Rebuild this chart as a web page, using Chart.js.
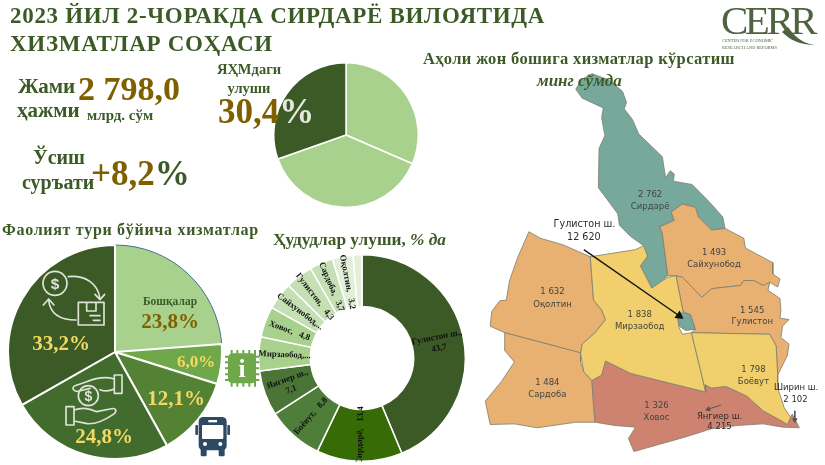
<!DOCTYPE html>
<html>
<head>
<meta charset="utf-8">
<title>Сирдарё вилояти хизматлар соҳаси</title>
<script src="https://cdn.jsdelivr.net/npm/chart.js@4"></script>
<style>
  html, body { margin: 0; padding: 0; background: #fff; }
  #page { position: relative; width: 825px; height: 465px; overflow: hidden; font-family: "Liberation Serif", serif; font-weight: bold; color: #3b5a26; }
  #page canvas, #page svg { position: absolute; }
  .t { position: absolute; white-space: nowrap; line-height: 1; }
  .gold { color: #7f6000; }
</style>
</head>
<body>
<div id="page">
  <canvas id="mapChart" width="345" height="465" style="left:480px;top:0"></canvas>
  <canvas id="sharePie" width="146" height="146" style="left:273px;top:62px"></canvas>
  <canvas id="servicesPie" width="216" height="216" style="left:6.5px;top:244px"></canvas>
  <canvas id="regionsDonut" width="208" height="208" style="left:258px;top:254px"></canvas>

  <svg width="825" height="465" style="left:0;top:0">
    <g transform="translate(0,225) scale(.33333)" fill="none" stroke="#dfe4d8" stroke-width="5" stroke-linecap="round" stroke-linejoin="round">
      <!-- trade icon -->
      <circle cx="165" cy="175" r="36"/>
      <path d="M205 155 C255 150 295 175 300 222 M285 208 L300 224 L314 208"/>
      <path d="M235 232 H312 V300 H235 Z M260 232 V258 H288 V232 M270 272 H300 M280 286 H300"/>
      <path d="M228 285 C180 285 150 265 146 225 M130 240 L146 222 L162 240"/>
      <!-- hands and coin icon -->
      <path d="M343 450 H366 V505 H343 Z M343 462 C310 452 280 462 260 470 L225 482 C212 490 222 502 238 498 L270 490 M300 494 C315 500 330 498 343 492"/>
      <circle cx="265" cy="512" r="30"/>
      <path d="M198 545 H222 V600 H198 Z M222 555 C250 545 270 552 290 560 L330 552 C350 546 352 560 340 568 C315 585 290 598 262 596 L222 588"/>
    </g>
    <g transform="translate(0,225) scale(.33333)">
      <text x="165" y="191" font-size="46" font-family="Liberation Sans" text-anchor="middle" fill="#dfe4d8">$</text>
      <text x="265" y="528" font-size="42" font-family="Liberation Sans" text-anchor="middle" fill="#dfe4d8">$</text>
    </g>
    <g transform="translate(0,225) scale(.33333)">
      <!-- info chip -->
      <path d="M675 395 H778 M675 412 H778 M675 430 H778 M675 448 H778 M675 465 H778 M695 375 V485 M712 375 V485 M730 375 V485 M748 375 V485 M765 375 V485" stroke="#6fa84a" stroke-width="6"/>
      <rect x="684" y="385" width="84" height="90" rx="14" fill="#6fa84a"/>
      <text x="726" y="457" font-size="76" font-family="Liberation Serif" font-weight="bold" text-anchor="middle" fill="#fff">i</text>
      <!-- bus -->
      <rect x="586" y="600" width="8" height="30" rx="3" fill="#2e4a62"/>
      <rect x="682" y="600" width="8" height="30" rx="3" fill="#2e4a62"/>
      <rect x="596" y="576" width="84" height="100" rx="14" fill="#2e4a62"/>
      <rect x="602" y="664" width="18" height="30" rx="4" fill="#2e4a62"/>
      <rect x="656" y="664" width="18" height="30" rx="4" fill="#2e4a62"/>
      <rect x="606" y="600" width="64" height="42" rx="3" fill="#fff"/>
      <rect x="625" y="585" width="26" height="7" fill="#fff"/>
      <circle cx="615" cy="657" r="6" fill="#fff"/>
      <circle cx="661" cy="657" r="6" fill="#fff"/>
    </g>
    <!-- tail of the logo's last R -->
    <path d="M782 32 C790 40 800 45 815 45 C803 44 794 36 788 27" fill="#4f6340"/>
  </svg>

  <div class="t" style="left:10px;top:4px;font-size:23px;letter-spacing:.7px">2023 ЙИЛ 2-ЧОРАКДА СИРДАРЁ ВИЛОЯТИДА</div>
  <div class="t" style="left:10px;top:32px;font-size:23px;letter-spacing:.7px">ХИЗМАТЛАР СОҲАСИ</div>

  <div class="t" style="left:18px;top:76px;font-size:21px">Жами</div>
  <div class="t" style="left:17px;top:100px;font-size:21px">ҳажми</div>
  <div class="t gold" style="left:78px;top:72px;font-size:34px">2 798,0</div>
  <div class="t" style="left:87px;top:108px;font-size:15px">млрд. сўм</div>

  <div class="t" style="left:33px;top:147px;font-size:20px">Ўсиш</div>
  <div class="t" style="left:22px;top:172px;font-size:20px">суръати</div>
  <div class="t gold" style="left:91px;top:156px;font-size:35px">+8,2<span style="color:#3b5a26">%</span></div>

  <div class="t" style="left:215px;top:62px;font-size:14.5px;width:68px;text-align:center">ЯҲМдаги</div>
  <div class="t" style="left:215px;top:81px;font-size:14.5px;width:68px;text-align:center">улуши</div>
  <div class="t gold" style="left:218px;top:94px;font-size:35px">30,4<span style="color:#e4e8df">%</span></div>

  <div class="t" style="left:2px;top:222px;font-size:16px;letter-spacing:.7px">Фаолият тури бўйича хизматлар</div>
  <div class="t" style="left:273px;top:231px;font-size:17.3px">Ҳудудлар улуши, <i>% да</i></div>
  <div class="t" style="left:423px;top:51px;font-size:16.5px;letter-spacing:.35px">Аҳоли жон бошига хизматлар кўрсатиш</div>
  <div class="t" style="left:537px;top:72px;font-size:17px"><i>минг сўмда</i></div>

  <div class="t" style="left:721px;top:0;font-size:41px;font-weight:normal;letter-spacing:-3.5px;color:#4f6340">CERR</div>
  <div class="t" style="left:722px;top:37px;font-size:4.4px;font-weight:normal;line-height:1.6;color:#4f6340">CENTER FOR ECONOMIC<br>RESEARCH AND REFORMS</div>
</div>

<script>
Chart.defaults.animation = false;
Chart.defaults.responsive = false;
Chart.defaults.plugins.legend.display = false;
Chart.defaults.plugins.tooltip.enabled = false;

// top pie: share in GRP
const shareValues = [31.5, 38.1, 30.4];
const shareColors = ['#a9d18e', '#a9d18e', '#3b5a26'];

// services by activity type
const serviceNames = ['Бошқалар', '', '', '', ''];
const serviceValues = [23.8, 6.0, 12.1, 24.8, 33.2];
const serviceColors = ['#a9d18e', '#6fa84a', '#548235', '#426b2e', '#3b5a26'];

// regional shares
const regionLabels = ['Гулистон ш.,\n43,7', 'Сирдарё,   13,4', 'Боёвут,   8,8', 'Янгиер ш.,\n7,1', 'Мирзаобод,...', 'Ховос,   4,8', 'Сайхунобод,...', 'Гулистон,   4,3', 'Сардоба,   3,7', 'Оқолтин,   3,2', ''];
const regionValues = [43.7, 13.4, 8.8, 7.1, 5.3, 4.8, 4.3, 4.3, 3.7, 3.2, 1.4];
const regionColors = ['#3b5a26', '#366b06', '#4f7d3a', '#4a7536', '#a9d18e', '#a9d18e', '#c5e0b4', '#c5e0b4', '#c5e0b4', '#e2f0d9', '#e2f0d9'];

// map: district outlines, in map units
const sirdaryoOutline = [[280,258],[298,228],[330,210],[385,230],[425,265],[437,298],[430,318],[455,350],[475,395],[548,465],[558,530],[572,508],[585,518],[582,540],[640,550],[690,600],[735,650],[742,685],[700,690],[660,650],[650,620],[610,610],[575,635],[585,660],[540,680],[548,700],[565,830],[515,868],[480,800],[502,770],[490,738],[450,710],[415,675],[410,640],[350,560],[352,440],[370,400],[360,345],[365,315],[300,285]];
const sayxunobodOutline = [[540,680],[585,660],[575,635],[610,610],[650,620],[660,650],[700,690],[742,685],[800,715],[805,745],[890,790],[890,825],[912,840],[905,865],[880,850],[875,870],[860,860],[830,845],[800,845],[790,860],[700,870],[670,897],[640,865],[610,835],[590,830],[565,830],[548,700]];
const gulistonOutline = [[590,830],[610,835],[640,865],[670,897],[700,870],[790,860],[800,845],[830,845],[860,860],[880,850],[875,875],[890,885],[912,900],[915,935],[912,960],[940,965],[920,985],[915,1020],[940,1040],[935,1075],[905,1135],[900,1045],[880,1010],[638,1005],[650,995],[635,950],[612,940]];
const mirzaobodOutline = [[325,772],[465,750],[490,738],[502,770],[480,800],[515,868],[565,835],[590,830],[612,940],[595,955],[600,990],[610,1010],[638,1005],[665,1115],[682,1187],[550,1155],[450,1130],[372,1092],[360,1135],[330,1152],[305,1125],[295,1070],[300,1040],[340,1005],[372,965],[360,935],[335,905]];
const gulistonCityOutline = [[595,955],[612,943],[635,950],[650,995],[620,998],[600,985]];
const boyovutOutline = [[638,1005],[880,1010],[900,1045],[905,1135],[905,1175],[925,1235],[945,1265],[935,1287],[915,1275],[860,1245],[810,1200],[745,1170],[700,1175],[680,1165],[682,1187],[665,1115]];
const oqoltinOutline = [[135,695],[170,715],[240,735],[325,772],[335,905],[360,935],[372,965],[340,1005],[300,1040],[295,1067],[60,1005],[15,985],[20,940],[45,907],[65,905],[75,845],[100,775]];
const sardobaOutline = [[60,1005],[295,1067],[295,1095],[305,1125],[330,1152],[335,1235],[340,1280],[280,1280],[160,1297],[90,1285],[15,1287],[0,1215],[50,1155],[90,1095],[60,1060]];
const xovosOutline = [[372,1092],[450,1130],[550,1155],[682,1187],[680,1165],[700,1175],[745,1170],[810,1200],[860,1245],[915,1275],[935,1287],[945,1265],[950,1255],[972,1297],[920,1295],[860,1285],[780,1290],[700,1300],[620,1325],[460,1370],[443,1330],[465,1295],[400,1290],[340,1280],[330,1152],[360,1135]];

const districtOutlines = [sirdaryoOutline, sayxunobodOutline, gulistonOutline, oqoltinOutline, sardobaOutline, xovosOutline, mirzaobodOutline, boyovutOutline, gulistonCityOutline];
const districtColors = ['#76a99b', '#e8b071', '#e8b071', '#e8b071', '#e8b071', '#cd8370', '#f0cf6c', '#f0cf6c', '#76a99b'];

const mapNames = ['Сирдарё', 'Сайхунобод', 'Оқолтин', 'Мирзаобод', 'Гулистон', 'Боёвут', 'Сардоба', 'Ховос'];
const mapValues = ['2 762', '1 493', '1 632', '1 838', '1 545', '1 798', '1 484', '1 326'];
const mapValueAnchors = [[510,581], [708,760], [208,880], [478,950], [826,937], [830,1118], [192,1158], [530,1228]];
const mapNameAnchors = [[510,618], [708,797], [208,918], [478,987], [826,973], [830,1155], [192,1195], [530,1265]];
const cityLabels = [['Гулистон ш.', 307, 672], ['12 620', 305, 713], ['Янгиер ш.', 725, 1262], ['4 215', 725, 1295], ['Ширин ш.', 962, 1173], ['2 102', 960, 1211]];

const cityArrows = [
  { from: [305, 750], to: [600, 953], color: '#111', width: 1.3, head: 4, angle: 125 },
  { from: [730, 1227], to: [690, 1240], color: '#555', width: 1, head: 2.5, angle: 252 },
  { from: [958, 1245], to: [958, 1273], color: '#555', width: 1, head: 2.5, angle: 180 },
];

const toXY = (pts) => pts.map(([x, y]) => ({ x, y }));

const serviceLabels = {
  id: 'serviceLabels',
  afterDatasetsDraw(chart) {
    const { ctx } = chart;
    const cx = chart.chartArea.width / 2;
    const cy = chart.chartArea.height / 2;
    const offsets = [[55, -29], [81, 11], [61, 48], [-11, 86], [-54, -7]];
    ctx.save();
    ctx.textAlign = 'center';
    ctx.textBaseline = 'middle';
    serviceValues.forEach((v, i) => {
      const text = `${v.toFixed(1).replace('.', ',')}%`;
      ctx.font = `bold ${i === 1 ? 17 : 21}px "Liberation Serif"`;
      ctx.fillStyle = i === 0 ? '#7f6000' : '#f3d862';
      ctx.fillText(text, cx + offsets[i][0], cy + offsets[i][1]);
      if (serviceNames[i]) {
        ctx.font = 'bold 11.5px "Liberation Serif"';
        ctx.fillStyle = '#3b5a26';
        ctx.fillText(serviceNames[i], cx + offsets[i][0], cy + offsets[i][1] - 21);
      }
    });
    ctx.restore();
  },
};

const regionTextLabels = {
  id: 'regionTextLabels',
  afterDatasetsDraw(chart) {
    const { ctx } = chart;
    const arcs = chart.getDatasetMeta(0).data;
    ctx.save();
    ctx.font = 'bold 8.8px "Liberation Serif"';
    ctx.fillStyle = '#111';
    ctx.textAlign = 'center';
    ctx.textBaseline = 'middle';
    arcs.forEach((arc, i) => {
      if (!regionLabels[i]) return;
      const { x, y } = arc.getCenterPoint();
      const mid = (arc.startAngle + arc.endAngle) / 2 + Math.PI / 2; // from 12 o'clock
      const rot = mid < Math.PI ? mid - Math.PI / 2 : mid - 1.5 * Math.PI;
      ctx.save();
      ctx.translate(x, y);
      ctx.rotate(rot);
      const lines = regionLabels[i].split('\n');
      lines.forEach((line, k) => ctx.fillText(line, 0, (k - (lines.length - 1) / 2) * 11));
      ctx.restore();
    });
    ctx.restore();
  },
};

const mapLabels = {
  id: 'mapLabels',
  afterDatasetsDraw(chart) {
    const { ctx, scales: { x, y } } = chart;
    ctx.save();
    ctx.textAlign = 'center';
    ctx.textBaseline = 'middle';
    ctx.fillStyle = '#44443f';
    ctx.font = '8.5px "DejaVu Sans"';
    mapNames.forEach((name, i) => {
      ctx.fillText(mapValues[i], x.getPixelForValue(mapValueAnchors[i][0]), y.getPixelForValue(mapValueAnchors[i][1]));
      ctx.fillText(name, x.getPixelForValue(mapNameAnchors[i][0]), y.getPixelForValue(mapNameAnchors[i][1]));
    });
    ctx.fillStyle = '#2b2b2b';
    cityLabels.forEach(([text, lx, ly], i) => {
      ctx.font = `${i < 2 ? 9.6 : 8.5}px "DejaVu Sans"`;
      ctx.fillText(text, x.getPixelForValue(lx), y.getPixelForValue(ly));
    });
    ctx.restore();
  },
};

new Chart(document.getElementById('sharePie'), {
  type: 'pie',
  data: { labels: ['', '', 'ЯҲМдаги улуши'], datasets: [{ data: shareValues, backgroundColor: shareColors, borderColor: '#fff', borderWidth: 1.5 }] },
});

new Chart(document.getElementById('servicesPie'), {
  type: 'pie',
  data: {
    labels: serviceNames,
    datasets: [{
      data: serviceValues,
      backgroundColor: serviceColors,
      borderColor: ['#44708a', '#fff', '#fff', '#fff', '#fff'],
      borderWidth: [1, 2, 2, 2, 2],
    }],
  },
  plugins: [serviceLabels],
});

new Chart(document.getElementById('regionsDonut'), {
  type: 'doughnut',
  data: {
    labels: regionLabels,
    datasets: [{ data: regionValues, backgroundColor: regionColors, borderColor: '#fff', borderWidth: 1.5 }],
  },
  options: { cutout: '50%' },
  plugins: [regionTextLabels],
});

const districtDatasets = districtOutlines.map((outline, i) => ({
  data: toXY([...outline, outline[0]]),
  showLine: true,
  fill: 'shape',
  backgroundColor: districtColors[i],
  borderColor: '#7d7d6e',
  borderWidth: 0.8,
  pointRadius: 0,
  tension: 0,
  clip: false,
}));

const arrowDatasets = cityArrows.map((a) => ({
  data: toXY([a.from, a.to]),
  showLine: true,
  borderColor: a.color,
  backgroundColor: a.color,
  borderWidth: a.width,
  pointStyle: 'triangle',
  pointRadius: [0, a.head],
  pointRotation: a.angle,
  tension: 0,
  clip: false,
}));

new Chart(document.getElementById('mapChart'), {
  type: 'scatter',
  // chart.js paints the first dataset last, so arrows and the city go first
  data: { datasets: [...arrowDatasets, ...districtDatasets.reverse()] },
  options: {
    layout: { padding: 0 },
    scales: {
      x: { type: 'linear', min: 0, max: 1035, display: false },
      y: { type: 'linear', min: 0, max: 1395, reverse: true, display: false },
    },
  },
  plugins: [mapLabels],
});
</script>
</body>
</html>
